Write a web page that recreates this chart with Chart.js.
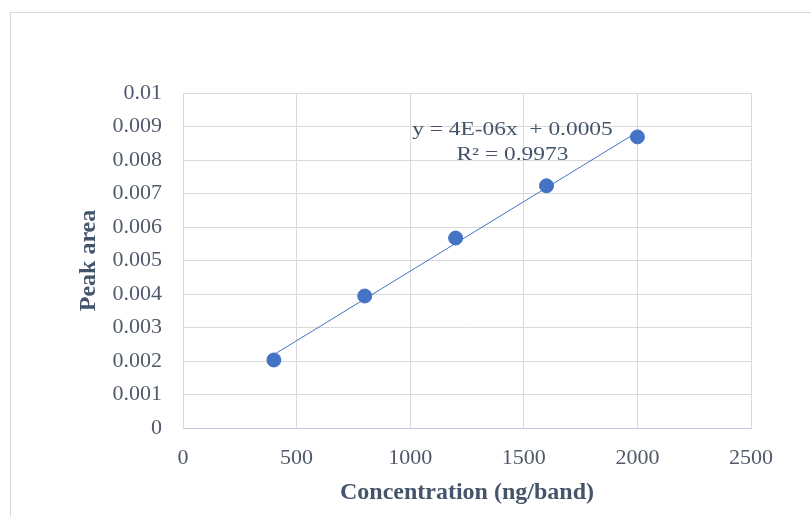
<!DOCTYPE html>
<html>
<head>
<meta charset="utf-8">
<script src="https://cdn.jsdelivr.net/npm/chart.js@4"></script>
<style>
  html, body { margin: 0; padding: 0; background: #fff; }
  #wrap { width: 811px; height: 517px; position: relative; }
</style>
</head>
<body>
<div id="wrap"><canvas id="chart"></canvas></div>
<script>
// data
const concentration = [400, 800, 1200, 1600, 2000];
const peakArea = [0.00203, 0.00394, 0.00567, 0.00723, 0.00869];
const xTicks = [0, 500, 1000, 1500, 2000, 2500];
const yTicks = [0, 0.001, 0.002, 0.003, 0.004, 0.005, 0.006, 0.007, 0.008, 0.009, 0.01];
const equationLines = ['y = 4E-06x  + 0.0005', 'R\u00B2 = 0.9973'];

// least squares fit for the trendline
const n = concentration.length;
const mx = concentration.reduce((a, b) => a + b, 0) / n;
const my = peakArea.reduce((a, b) => a + b, 0) / n;
let sxy = 0, sxx = 0;
for (let i = 0; i < n; i++) {
  sxy += (concentration[i] - mx) * (peakArea[i] - my);
  sxx += (concentration[i] - mx) ** 2;
}
const slope = sxy / sxx;
const intercept = my - slope * mx;
const xMin = Math.min(...concentration);
const xMax = Math.max(...concentration);
const trend = [
  { x: xMin, y: slope * xMin + intercept },
  { x: xMax, y: slope * xMax + intercept },
];

const blue = '#4472C4';
const serif = "'Liberation Serif', 'Times New Roman', serif";
const tickColor = '#505a6a';
const titleColor = '#44546a';

// outer frame + trendline equation
const extras = {
  id: 'extras',
  beforeDraw(chart) {
    const ctx = chart.ctx;
    ctx.save();
    ctx.strokeStyle = '#d9d9d9';
    ctx.lineWidth = 1;
    ctx.strokeRect(10.5, 12.5, 900, 600);
    ctx.restore();
  },
  afterDatasetsDraw(chart) {
    const ctx = chart.ctx;
    const xs = chart.scales.x, ys = chart.scales.y;
    const cx = xs.getPixelForValue(1450);
    const rows = [0.00889, 0.00814];
    ctx.save();
    ctx.font = '18px ' + serif;
    ctx.fillStyle = titleColor;
    ctx.textAlign = 'center';
    ctx.textBaseline = 'middle';
    equationLines.forEach((line, i) => {
      ctx.save();
      ctx.translate(cx, ys.getPixelForValue(rows[i]));
      ctx.scale(1.3, 1);
      ctx.fillText(line, 0, 0);
      ctx.restore();
    });
    ctx.restore();
  }
};

new Chart(document.getElementById('chart'), {
  type: 'scatter',
  data: {
    datasets: [
      {
        label: 'Peak area',
        data: concentration.map((x, i) => ({ x: x, y: peakArea[i] })),
        backgroundColor: blue,
        borderColor: blue,
        pointRadius: 7,
        pointHoverRadius: 7,
        order: 1,
      },
      {
        label: 'Linear',
        type: 'line',
        data: trend,
        borderColor: blue,
        borderWidth: 1,
        pointRadius: 0,
        fill: false,
        order: 2,
      },
    ],
  },
  options: {
    responsive: true,
    maintainAspectRatio: false,
    animation: false,
    layout: { padding: { left: 74, top: 93, right: 60, bottom: 0 } },
    plugins: {
      legend: { display: false },
      tooltip: { enabled: false },
    },
    scales: {
      x: {
        type: 'linear',
        min: 0,
        max: 2500,
        afterBuildTicks: (s) => { s.ticks = xTicks.map((v) => ({ value: v })); },
        afterFit: (s) => { s.height = 89; },
        grid: { color: '#d9d9d9', drawTicks: false },
        border: { color: '#bfcbdc' },
        ticks: {
          color: tickColor,
          font: { family: serif, size: 22 },
          padding: 17,
          callback: (v) => String(v),
        },
        title: {
          display: true,
          text: 'Concentration (ng/band)',
          color: titleColor,
          font: { family: serif, size: 24, weight: 'bold' },
          padding: { top: 0, bottom: 10 },
        },
      },
      y: {
        type: 'linear',
        min: 0,
        max: 0.01,
        afterBuildTicks: (s) => { s.ticks = yTicks.map((v) => ({ value: v })); },
        afterFit: (s) => { s.width = 109; },
        grid: { color: '#d9d9d9', drawTicks: false },
        border: { color: '#d9d9d9' },
        ticks: {
          color: tickColor,
          font: { family: serif, size: 22 },
          padding: 21,
          callback: (v) => String(v),
        },
        title: {
          display: true,
          text: 'Peak area',
          color: titleColor,
          font: { family: serif, size: 24, weight: 'bold' },
          padding: 0,
        },
      },
    },
  },
  plugins: [extras],
});
</script>
</body>
</html>
